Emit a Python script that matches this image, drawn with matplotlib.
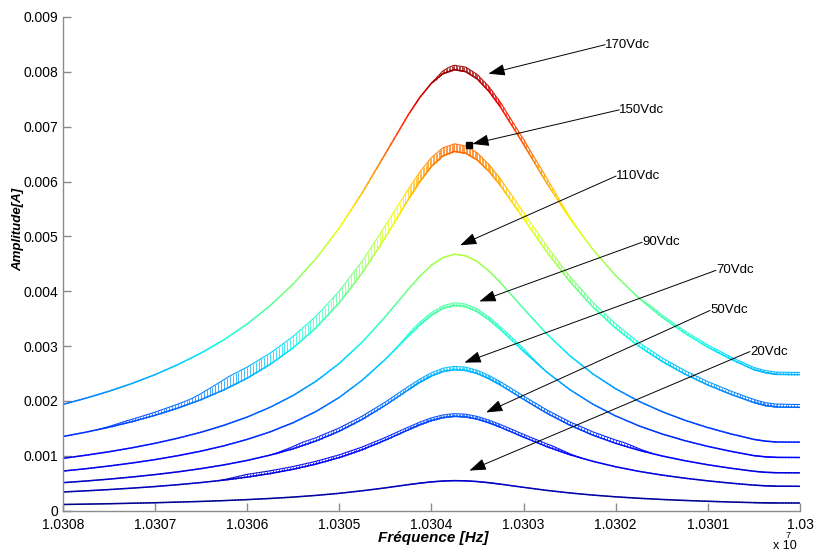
import numpy as np
import matplotlib
matplotlib.use("Agg")
import matplotlib.pyplot as plt
from matplotlib.collections import LineCollection
from matplotlib.colors import Normalize

# ---------------- data (frequency in Hz, amplitude in mA) ----------------
freq = [10308000, 10307750, 10307500, 10307250, 10307000, 10306750, 10306500,
        10306250, 10306000, 10305750, 10305500, 10305250, 10305000, 10304750,
        10304500, 10304250, 10304125, 10304000, 10303875, 10303750, 10303625,
        10303500, 10303375, 10303250, 10303000, 10302750, 10302500, 10302250,
        10302000, 10301750, 10301500, 10301250, 10301000, 10300750, 10300500,
        10300375, 10300250, 10300000]

amp_170 = [1.937, 2.050, 2.176, 2.318, 2.479, 2.663, 2.873, 3.117, 3.402, 3.736,
           4.131, 4.599, 5.152, 5.793, 6.505, 7.218, 7.534, 7.791, 7.966, 8.040,
           8.003, 7.867, 7.645, 7.358, 6.681, 5.979, 5.332, 4.768, 4.286, 3.877,
           3.531, 3.235, 2.981, 2.762, 2.571, 2.515, 2.485, 2.480]
amp_150 = [1.351, 1.431, 1.521, 1.622, 1.738, 1.871, 2.024, 2.203, 2.414, 2.666,
           2.969, 3.337, 3.787, 4.334, 4.977, 5.672, 5.998, 6.274, 6.467, 6.550,
           6.515, 6.390, 6.186, 5.927, 5.326, 4.723, 4.181, 3.717, 3.327, 2.999,
           2.725, 2.491, 2.292, 2.121, 1.972, 1.915, 1.890, 1.885]
amp_110 = [0.954, 1.011, 1.074, 1.146, 1.228, 1.322, 1.430, 1.557, 1.706, 1.885,
           2.100, 2.362, 2.683, 3.074, 3.535, 4.036, 4.273, 4.474, 4.614, 4.675,
           4.646, 4.540, 4.370, 4.159, 3.685, 3.227, 2.829, 2.497, 2.223, 1.996,
           1.808, 1.649, 1.515, 1.400, 1.300, 1.268, 1.252, 1.250]
amp_90 = [0.722, 0.765, 0.814, 0.869, 0.931, 1.003, 1.086, 1.183, 1.299, 1.437,
          1.604, 1.810, 2.064, 2.379, 2.758, 3.182, 3.386, 3.562, 3.687, 3.742,
          3.717, 3.626, 3.481, 3.302, 2.906, 2.531, 2.210, 1.944, 1.727, 1.548,
          1.401, 1.277, 1.172, 1.082, 1.004, 0.982, 0.972, 0.970]
amp_70 = [0.511, 0.541, 0.575, 0.614, 0.658, 0.708, 0.767, 0.835, 0.916, 1.013,
          1.129, 1.272, 1.448, 1.664, 1.921, 2.204, 2.340, 2.455, 2.537, 2.572,
          2.556, 2.498, 2.406, 2.291, 2.031, 1.780, 1.562, 1.379, 1.228, 1.103,
          0.999, 0.912, 0.837, 0.774, 0.719, 0.700, 0.692, 0.690]
amp_50 = [0.341, 0.362, 0.385, 0.411, 0.440, 0.474, 0.513, 0.558, 0.612, 0.677,
          0.755, 0.851, 0.968, 1.112, 1.285, 1.474, 1.565, 1.642, 1.696, 1.720,
          1.709, 1.668, 1.602, 1.521, 1.342, 1.170, 1.023, 0.901, 0.801, 0.718,
          0.650, 0.593, 0.544, 0.502, 0.466, 0.454, 0.447, 0.445]
amp_20 = [0.113, 0.120, 0.127, 0.136, 0.145, 0.157, 0.169, 0.184, 0.202, 0.223,
          0.248, 0.279, 0.317, 0.363, 0.416, 0.475, 0.502, 0.525, 0.541, 0.548,
          0.544, 0.531, 0.510, 0.484, 0.426, 0.371, 0.324, 0.285, 0.253, 0.227,
          0.205, 0.187, 0.172, 0.158, 0.147, 0.143, 0.141, 0.140]

series = [amp_170, amp_150, amp_110, amp_90, amp_70, amp_50, amp_20]

# hatched-ribbon styling per curve: control points (Hz, ribbon height in A)
ribbons = [
    [(10304000, 0), (10303800, 0.00008), (10302750, 0.00009), (10302400, 0),
     (10301800, 0), (10301600, 0.00004), (10300000, 0.00004)],
    [(10307600, 0), (10307300, 0.00004), (10306600, 0.00008), (10306200, 0.00020),
     (10304500, 0.00022), (10303800, 0.00014), (10302600, 0.00010),
     (10301800, 0.00007), (10300000, 0.00005)],
    [],
    [(10304400, 0), (10304200, 0.00005), (10303000, 0.00005), (10302800, 0)],
    [(10305700, 0), (10305400, 0.00006), (10301900, 0.00006), (10301600, 0)],
    [(10306300, 0), (10306000, 0.00005), (10302700, 0.00005), (10302400, 0)],
    [],
]

labels = ["170Vdc", "150Vdc", "110Vdc", "90Vdc", "70Vdc", "50Vdc", "20Vdc"]
# label anchor (Hz, A) and arrow tip (Hz, A)
label_xy = [(10302114, 0.008495), (10301962, 0.007307), (10301995, 0.006101),
            (10301713, 0.004894), (10300911, 0.004382), (10300976, 0.003651),
            (10300543, 0.002901)]
tip_xy = [(10303381, 0.007966), (10303555, 0.006686), (10303688, 0.004839),
          (10303479, 0.003815), (10303641, 0.002700), (10303406, 0.001792),
          (10303587, 0.000731)]
marker_150 = (10303587, 0.006668)

xticks = [10308000, 10307000, 10306000, 10305000, 10304000, 10303000,
          10302000, 10301000, 10300000]
xtick_labels = ["1.0308", "1.0307", "1.0306", "1.0305", "1.0304", "1.0303",
                "1.0302", "1.0301", "1.03"]
yticks = [0, 0.001, 0.002, 0.003, 0.004, 0.005, 0.006, 0.007, 0.008, 0.009]
ytick_labels = ["0", "0.001", "0.002", "0.003", "0.004", "0.005", "0.006",
                "0.007", "0.008", "0.009"]

# ---------------- figure ----------------
plt.rcParams['font.family'] = ['Liberation Sans', 'DejaVu Sans']
W, H = 816, 551
fig = plt.figure(figsize=(W / 100, H / 100), dpi=100)
ax_l, ax_b = 62.7 / W, (H - 510.7) / H
ax_w, ax_h = (800 - 62.7) / W, (510.7 - 17) / H
ax = fig.add_axes([ax_l, ax_b, ax_w, ax_h])

cmap = plt.get_cmap('jet')
norm = Normalize(vmin=0.0, vmax=0.0082)

x = np.asarray(freq, dtype=float)
for s, rib in zip(series, ribbons):
    y = np.asarray(s) * 1e-3
    pts = np.column_stack([x, y])
    segs, cols = [], []
    subpts = []
    for i in range(len(pts) - 1):
        p0, p1 = pts[i], pts[i + 1]
        n = 8
        for k in range(n):
            a = p0 + (p1 - p0) * (k / n)
            b = p0 + (p1 - p0) * ((k + 1) / n)
            segs.append([a, b])
            cols.append(cmap(norm(0.5 * (a[1] + b[1]))))
            subpts.append(a)
    subpts.append(pts[-1])
    subpts = np.array(subpts)

    # hatched ribbon decoration (vertical strokes above the curve)
    if rib:
        cf = np.array([r[0] for r in rib])[::-1]
        ct = np.array([r[1] for r in rib])[::-1]
        th = np.interp(subpts[:, 0], cf, ct, left=0, right=0)
        hsegs, hcols, esegs, ecols = [], [], [], []
        for j in range(len(subpts)):
            if th[j] <= 0:
                continue
            fx, fy = subpts[j]
            hsegs.append([(fx, fy), (fx, fy + th[j])])
            hcols.append(cmap(norm(fy)))
        for j in range(len(subpts) - 1):
            if th[j] <= 0 and th[j + 1] <= 0:
                continue
            a = (subpts[j, 0], subpts[j, 1] + th[j])
            b = (subpts[j + 1, 0], subpts[j + 1, 1] + th[j + 1])
            esegs.append([a, b])
            ecols.append(cmap(norm(subpts[j, 1])))
        ax.add_collection(LineCollection(hsegs, colors=hcols, linewidths=0.6,
                                         alpha=0.85))
        ax.add_collection(LineCollection(esegs, colors=ecols, linewidths=0.8))

    lc = LineCollection(segs, colors=cols, linewidths=1.1, capstyle='round',
                        joinstyle='round')
    ax.add_collection(lc)

ax.set_xlim(10308000, 10300000)
ax.set_ylim(0, 0.009)

ax.set_xticks(xticks)
ax.set_xticklabels(xtick_labels)
ax.set_yticks(yticks)
ax.set_yticklabels(ytick_labels)

for side in ['top', 'right']:
    ax.spines[side].set_visible(False)
for side in ['left', 'bottom']:
    ax.spines[side].set_color('#8c8c8c')
    ax.spines[side].set_linewidth(1.0)
ax.tick_params(direction='in', length=6, width=1.0, color='#8c8c8c',
               labelsize=10, labelcolor='black')
ax.tick_params(axis='x', pad=5)
ax.tick_params(axis='y', pad=3)

ax.set_xlabel('Fréquence [Hz]', fontsize=11, fontweight='bold',
              fontstyle='italic')
ax.xaxis.set_label_coords((433 / W - ax_l) / ax_w, ((H - 538) / H - ax_b) / ax_h)
ax.xaxis.label.set_va('center')
ax.set_ylabel('Amplitude[A]', fontsize=9.5, fontweight='bold',
              fontstyle='italic')
ax.yaxis.set_label_coords((18 / W - ax_l) / ax_w, ((H - 229) / H - ax_b) / ax_h)
ax.yaxis.label.set_va('center')

# annotations
for lab, (lx, ly), (tx, ty) in zip(labels, label_xy, tip_xy):
    ax.annotate('', xy=(tx, ty), xytext=(lx, ly),
                arrowprops=dict(arrowstyle='-|>,head_length=0.85,head_width=0.3',
                                color='black', lw=0.7, shrinkA=0, shrinkB=0,
                                mutation_scale=12),
                annotation_clip=False)
    ax.text(lx, ly, lab, fontsize=9.5, ha='left', va='center', color='black',
            clip_on=False)
ax.plot([marker_150[0]], [marker_150[1]], marker='s', color='black',
        markersize=4.5, linestyle='none', clip_on=False)

# MATLAB-style exponent
fig.text(773 / W, 1 - 546 / H, 'x 10', fontsize=9, ha='left', va='center')
fig.text(786 / W, 1 - 535.5 / H, '7', fontsize=6.5, ha='left', va='center')

fig.savefig('out.png', dpi=100)
